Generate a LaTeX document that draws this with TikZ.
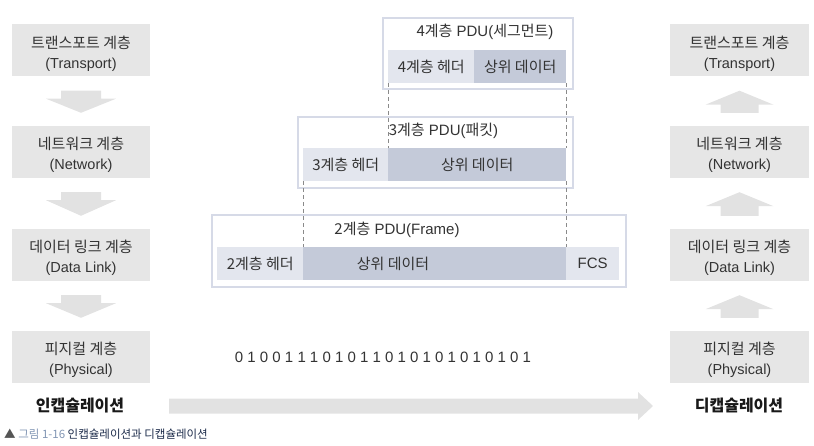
\documentclass[tikz,border=0pt]{standalone}
\usepackage{fontspec}
\setmainfont{Liberation Sans}
\newfontfamily\kr{Noto Sans CJK KR}
\usetikzlibrary{calc}

\definecolor{layerfill}{HTML}{E6E6E6}
\definecolor{arrowfill}{HTML}{E2E2E2}
\definecolor{pduframe}{HTML}{D6DAE7}
\definecolor{hdrfill}{HTML}{E3E6EE}
\definecolor{datafill}{HTML}{C4CAD9}
\definecolor{txt}{HTML}{333333}
\definecolor{dashgray}{HTML}{8A8A8A}
\definecolor{capgray}{HTML}{555555}
\definecolor{capnum}{HTML}{8296B4}
\definecolor{capnavy}{HTML}{1C2B4A}

% Korean / Latin text helpers
\newcommand\ko[1]{{\kr #1}}
\newcommand\layertext[2]{{\kr\fontsize{15pt}{20pt}\selectfont #1}\\{\fontsize{14.5pt}{20pt}\selectfont #2}}
% one protocol layer: grey box plus its two-line caption
\newcommand\layerbox[5]{%
  \node[layer, minimum width=#3] (#1) at (#2) {};
  \node[layertxt] (#1-t) at ($(#1.center)+(0,3)$) {\layertext{#4}{#5}};
}

\begin{document}
\begin{tikzpicture}[x=1pt,y=-1pt,
  layer/.style={fill=layerfill, minimum height=52pt, inner sep=0pt},
  layertxt/.style={inner sep=0pt, align=center, text=txt, font=\fontsize{14.5pt}{20pt}\selectfont},
  pdubox/.style={draw=pduframe, line width=2pt, fill=white, inner sep=0pt, anchor=north west},
  hdrcell/.style={fill=hdrfill, inner sep=0pt, minimum height=33pt, anchor=north west,
    text=txt, font=\fontsize{15pt}{17pt}\selectfont},
  datacell/.style={fill=datafill, inner sep=0pt, minimum height=33pt, anchor=north west,
    text=txt, font=\fontsize{15pt}{17pt}\selectfont},
  pdutitle/.style={text=txt, inner sep=0pt, font=\fontsize{15pt}{17pt}\selectfont},
  dashline/.style={draw=dashgray, line width=0.8pt, dash pattern=on 4pt off 3pt},
  blockarrow/.style={fill=arrowfill},
  sidelabel/.style={inner sep=0pt, text=black!90, font=\kr\bfseries\fontsize{16pt}{18pt}\selectfont},
]
\path[use as bounding box] (0,0) rectangle (814,446);

% ---------- encapsulation stack (left) ----------
\layerbox{et}{81,50.5}{138pt}{트랜스포트 계층}{(Transport)}
\layerbox{en}{81,152}{138pt}{네트워크 계층}{(Network)}
\layerbox{ed}{81,255}{138pt}{데이터 링크 계층}{(Data Link)}
\layerbox{ep}{81,357}{138pt}{피지컬 계층}{(Physical)}

% ---------- decapsulation stack (right) ----------
\layerbox{dt}{739.5,50.5}{139pt}{트랜스포트 계층}{(Transport)}
\layerbox{dn}{739.5,152}{139pt}{네트워크 계층}{(Network)}
\layerbox{dd}{739.5,255}{139pt}{데이터 링크 계층}{(Data Link)}
\layerbox{dp}{739.5,357}{139pt}{피지컬 계층}{(Physical)}

% downward block arrows between encapsulation layers
\foreach \a/\b in {et/en, en/ed, ed/ep}{
  \fill[blockarrow] ($(\a.south)+(-20,14)$) -- ($(\a.south)+(20,14)$)
    -- ($(\a.south)+(20,22)$) -- ($(\a.south)+(35,22)$)
    -- ($(\b.north)+(0,-13)$)
    -- ($(\a.south)+(-35,22)$) -- ($(\a.south)+(-20,22)$) -- cycle;
}
% upward block arrows between decapsulation layers
\foreach \a/\b in {dp/dd, dd/dn, dn/dt}{
  \fill[blockarrow] ($(\a.north)+(-19,-13)$) -- ($(\a.north)+(19,-13)$)
    -- ($(\b.south)+(19,28)$) -- ($(\b.south)+(34,28)$)
    -- ($(\b.south)+(0,14)$)
    -- ($(\b.south)+(-34,28)$) -- ($(\b.south)+(-19,28)$) -- cycle;
}

% ---------- PDU frames ----------
\node[pdubox, minimum width=190pt, minimum height=71pt] (f4) at (382,17) {};
\node[pdubox, minimum width=275pt, minimum height=71pt] (f3) at (297,116) {};
\node[pdubox, minimum width=414pt, minimum height=72pt] (f2) at (211,214) {};

% layer 4 segment
\node[pdutitle] (t4) at (485,32) {\ko{4계층} PDU(\ko{세그먼트})};
\node[hdrcell, minimum width=86pt] (h4) at (388,50) {\ko{4계층 헤더}};
\node[datacell, minimum width=92pt] (d4) at (474,50) {\ko{상위 데이터}};

% layer 3 packet
\node[pdutitle] (t3) at (443.5,131) {\ko{3계층} PDU(\ko{패킷})};
\node[hdrcell, minimum width=85pt] (h3) at (303,148) {\ko{3계층 헤더}};
\node[datacell, minimum width=178pt] (d3) at (388,148) {\ko{상위 데이터}};

% layer 2 frame
\node[pdutitle] (t2) at (397,230) {\ko{2계층} PDU(Frame)};
\node[hdrcell, minimum width=86pt] (h2) at (217,247) {\ko{2계층 헤더}};
\node[datacell, minimum width=263pt] (d2) at (303,247) {};
\node[hdrcell, minimum width=53pt] (fcs) at (566,247) {FCS};
\node[pdutitle] (d2t) at (393,263.5) {\ko{상위 데이터}};

% dashed guides showing how each PDU becomes the data of the next
\draw[dashline] (h4.south west) -- (d3.north west);
\draw[dashline] (d4.south east) -- (d3.north east);
\draw[dashline] (h3.south west) -- (d2.north west);
\draw[dashline] (d3.south east) -- (d2.north east);

% bit stream
\node[inner sep=0pt, text=txt, font=\fontsize{15pt}{17pt}\selectfont] (bits) at (383,357)
  {0 1 0 0 1 1 1 0 1 0 1 1 0 1 0 1 0 1 0 1 0 1 0 1};

% ---------- bottom labels and direction arrow ----------
\node[sidelabel] (enc) at (80,406) {인캡슐레이션};
\node[sidelabel] (dec) at (739,406) {디캡슐레이션};
\fill[blockarrow] ($(enc.center)+(89,-7.5)$) -- ($(dec.center)+(-101,-7.5)$)
  -- ($(dec.center)+(-101,-14)$) -- ($(dec.center)+(-86,0)$)
  -- ($(dec.center)+(-101,14)$) -- ($(dec.center)+(-101,7.5)$)
  -- ($(enc.center)+(89,7.5)$) -- cycle;

% caption
\node[anchor=west, inner sep=0pt, font=\kr\fontsize{11.5pt}{13pt}\selectfont] (cap) at (4,434)
  {\textcolor{capgray}{▲} \textcolor{capnum}{그림 1-16} \textcolor{capnavy}{인캡슐레이션과 디캡슐레이션}};
\end{tikzpicture}
\end{document}
